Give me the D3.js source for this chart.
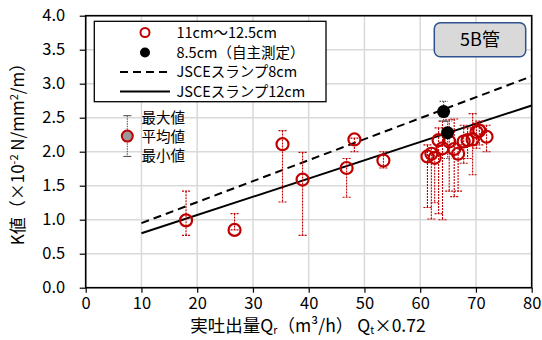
<!DOCTYPE html>
<html><head><meta charset="utf-8">
<script src="https://cdn.jsdelivr.net/npm/d3@7"></script>
<style>body{margin:0;background:#fff}svg{display:block}text{font-family:"Noto Sans CJK JP","Liberation Sans",sans-serif}</style>
</head><body><svg id="c" width="542" height="340"></svg>
<script>
// Series 11cm～12.5cm : flow, mean, max, min
const redQ   = [18.0, 26.7, 35.3, 38.9, 46.8, 48.2, 53.4, 61.3, 62.0, 62.6, 63.3, 64.0, 65.2, 66.1, 66.8, 67.8, 68.5, 69.4, 70.1, 70.6, 71.9];
const redMean= [0.99, 0.85, 2.11, 1.59, 1.76, 2.18, 1.87, 1.93, 1.97, 1.91, 2.17, 2.05, 2.15, 2.04, 1.97, 2.15, 2.17, 2.18, 2.29, 2.31, 2.22];
const redMax = [1.42, 1.09, 2.31, 1.99, 1.90, 2.20, 2.00, 2.10, 2.05, 2.00, 2.35, 2.45, 2.47, 2.48, 2.10, 2.39, 2.35, 2.56, 2.42, 2.45, 2.39];
const redMin = [0.77, 0.85, 1.26, 0.77, 1.33, 2.00, 1.76, 1.18, 1.01, 1.25, 1.09, 1.00, 1.42, 1.34, 1.42, 1.83, 1.90, 1.66, 2.05, 2.10, 2.00];
// Series 8.5cm (自主測定)
const blkQ   = [64.2, 64.9];
const blkMean= [2.59, 2.28];
const blkMax = [2.74, 2.45];
const blkMin = [2.45, 1.90];
// JSCE lines: [Q, K]
const slump8  = [[10, 0.95], [80, 3.11]];
const slump12 = [[10, 0.80], [80, 2.68]];
const xTicks = [0,10,20,30,40,50,60,70,80];
const yTicks = [0,0.5,1,1.5,2,2.5,3,3.5,4];
const legendLabels = ["11cm～12.5cm","8.5cm（自主測定）","JSCEスランプ8cm","JSCEスランプ12cm"];
const errLabels = ["最大値","平均値","最小値"];
const tagLabel = "5B管";

const svg = d3.select("#c");
const x = d3.scaleLinear().domain([0,80]).range([85.7,531.7]);
const y = d3.scaleLinear().domain([0,4]).range([287.7,15.7]);
const red = "#C00000";

// grid
const g = svg.append("g");
g.selectAll(".gx").data(xTicks).join("line").attr("x1",d=>x(d)).attr("x2",d=>x(d)).attr("y1",y(0)).attr("y2",y(4)).attr("stroke","#d9d9d9").attr("stroke-width",1.5);
g.selectAll(".gy").data(yTicks).join("line").attr("y1",d=>y(d)).attr("y2",d=>y(d)).attr("x1",x(0)).attr("x2",x(80)).attr("stroke","#d9d9d9").attr("stroke-width",1.5);

// axes
const fs = "16.5px";
const xa = svg.append("g").attr("transform",`translate(0,${y(0)})`).call(d3.axisBottom(x).tickValues(xTicks).tickSize(5).tickPadding(2).tickFormat(d3.format("d")));
xa.selectAll("text").attr("font-size",fs).attr("fill","#000").attr("dy","0.85em");
const ya = svg.append("g").attr("transform",`translate(${x(0)},0)`).call(d3.axisLeft(y).tickValues(yTicks).tickSize(6).tickFormat(d3.format(".1f")));
ya.selectAll("text").attr("font-size",fs).attr("fill","#000").attr("dx","-0.7em");
[xa,ya].forEach(a=>{a.select(".domain").remove();a.selectAll("line").attr("stroke","#000").attr("stroke-width",1.2);});
// frame
svg.append("rect").attr("x",x(0)).attr("y",y(4)).attr("width",x(80)-x(0)).attr("height",y(0)-y(4)).attr("fill","none").attr("stroke","#000").attr("stroke-width",1.6);

// lines
const line = d3.line().x(d=>x(d[0])).y(d=>y(d[1]));
svg.append("path").attr("d",line(slump8)).attr("stroke","#000").attr("stroke-width",2).attr("stroke-dasharray","8,5").attr("fill","none");
svg.append("path").attr("d",line(slump12)).attr("stroke","#000").attr("stroke-width",2).attr("fill","none");

// error bars
function errbars(Q,mx,mn,color,dash){
  const eg = svg.append("g").attr("stroke",color).attr("stroke-width",1.1).attr("stroke-dasharray",dash);
  Q.forEach((q,i)=>{
    eg.append("line").attr("x1",x(q)).attr("x2",x(q)).attr("y1",y(mx[i])).attr("y2",y(mn[i]));
    eg.append("line").attr("x1",x(q)-4).attr("x2",x(q)+4).attr("y1",y(mx[i])).attr("y2",y(mx[i]));
    eg.append("line").attr("x1",x(q)-4).attr("x2",x(q)+4).attr("y1",y(mn[i])).attr("y2",y(mn[i]));
  });
}
errbars(redQ,redMax,redMin,red,"2,1");
errbars(blkQ,blkMax,blkMin,"#555","1.5,1");
svg.append("g").selectAll("circle").data(redQ).join("circle").attr("cx",d=>x(d)).attr("cy",(d,i)=>y(redMean[i])).attr("r",6).attr("fill","none").attr("stroke",red).attr("stroke-width",2.2);
svg.append("g").selectAll("circle").data(blkQ).join("circle").attr("cx",d=>x(d)).attr("cy",(d,i)=>y(blkMean[i])).attr("r",6.5).attr("fill","#000");

// legend
svg.append("rect").attr("x",94.3).attr("y",21.3).attr("width",231.7).attr("height",80.4).attr("fill","#fff").attr("stroke","#000").attr("stroke-width",1.3);
const ly = [32.5,52.5,72,91.5];
svg.append("circle").attr("cx",145).attr("cy",ly[0]).attr("r",4.5).attr("fill","none").attr("stroke",red).attr("stroke-width",2);
svg.append("circle").attr("cx",145).attr("cy",ly[1]).attr("r",5).attr("fill","#000");
svg.append("line").attr("x1",120).attr("x2",170).attr("y1",ly[2]).attr("y2",ly[2]).attr("stroke","#000").attr("stroke-width",2).attr("stroke-dasharray","8,5");
svg.append("line").attr("x1",120).attr("x2",170).attr("y1",ly[3]).attr("y2",ly[3]).attr("stroke","#000").attr("stroke-width",2);
svg.append("g").selectAll("text").data(legendLabels).join("text").attr("x",176.5).attr("y",(d,i)=>ly[i]).attr("dy","0.36em").attr("font-size","14.5px").text(d=>d);

// error legend
const ex = 127.3;
svg.append("line").attr("x1",ex).attr("x2",ex).attr("y1",y(2.53)).attr("y2",y(1.93)).attr("stroke","#555").attr("stroke-width",1.1).attr("stroke-dasharray","1.5,1");
[2.53,1.93].forEach(v=>svg.append("line").attr("x1",ex-4).attr("x2",ex+4).attr("y1",y(v)).attr("y2",y(v)).attr("stroke","#555").attr("stroke-width",1.1));
svg.append("circle").attr("cx",ex).attr("cy",y(2.23)).attr("r",5.5).attr("fill","#999").attr("stroke",red).attr("stroke-width",2);
svg.append("g").selectAll("text").data(errLabels).join("text").attr("x",141.5).attr("y",(d,i)=>[117.3,136.3,156][i]).attr("dy","0.36em").attr("font-size","14.5px").text(d=>d);

// tag
svg.append("rect").attr("x",434.3).attr("y",22.7).attr("width",91.4).attr("height",34).attr("rx",6).attr("fill","#d9d9d9").attr("stroke","#2F528F").attr("stroke-width",1.5);
svg.append("text").attr("x",480).attr("y",39.7).attr("dy","0.36em").attr("text-anchor","middle").attr("font-size","18px").text(tagLabel);

// axis titles
const xt = svg.append("text").attr("x",308).attr("y",332).attr("text-anchor","middle").attr("font-size","17.5px");
xt.append("tspan").text("実吐出量Q");
xt.append("tspan").attr("font-size","10.5px").attr("dy","2").text("r");
xt.append("tspan").attr("dy","-2").text("（m³/h） Q");
xt.append("tspan").attr("font-size","10.5px").attr("dy","2").text("t");
xt.append("tspan").attr("dy","-2").text("×0.72");
const yt = svg.append("text").attr("transform","translate(24,150) rotate(-90)").attr("text-anchor","middle").attr("font-size","17px");
yt.append("tspan").text("K値（×10");
yt.append("tspan").attr("font-size","11px").attr("dy","-6").text("-2");
yt.append("tspan").attr("dy","6").text(" N/mm");
yt.append("tspan").attr("font-size","11px").attr("dy","-6").text("2");
yt.append("tspan").attr("dy","6").text("/m）");
</script></body></html>
